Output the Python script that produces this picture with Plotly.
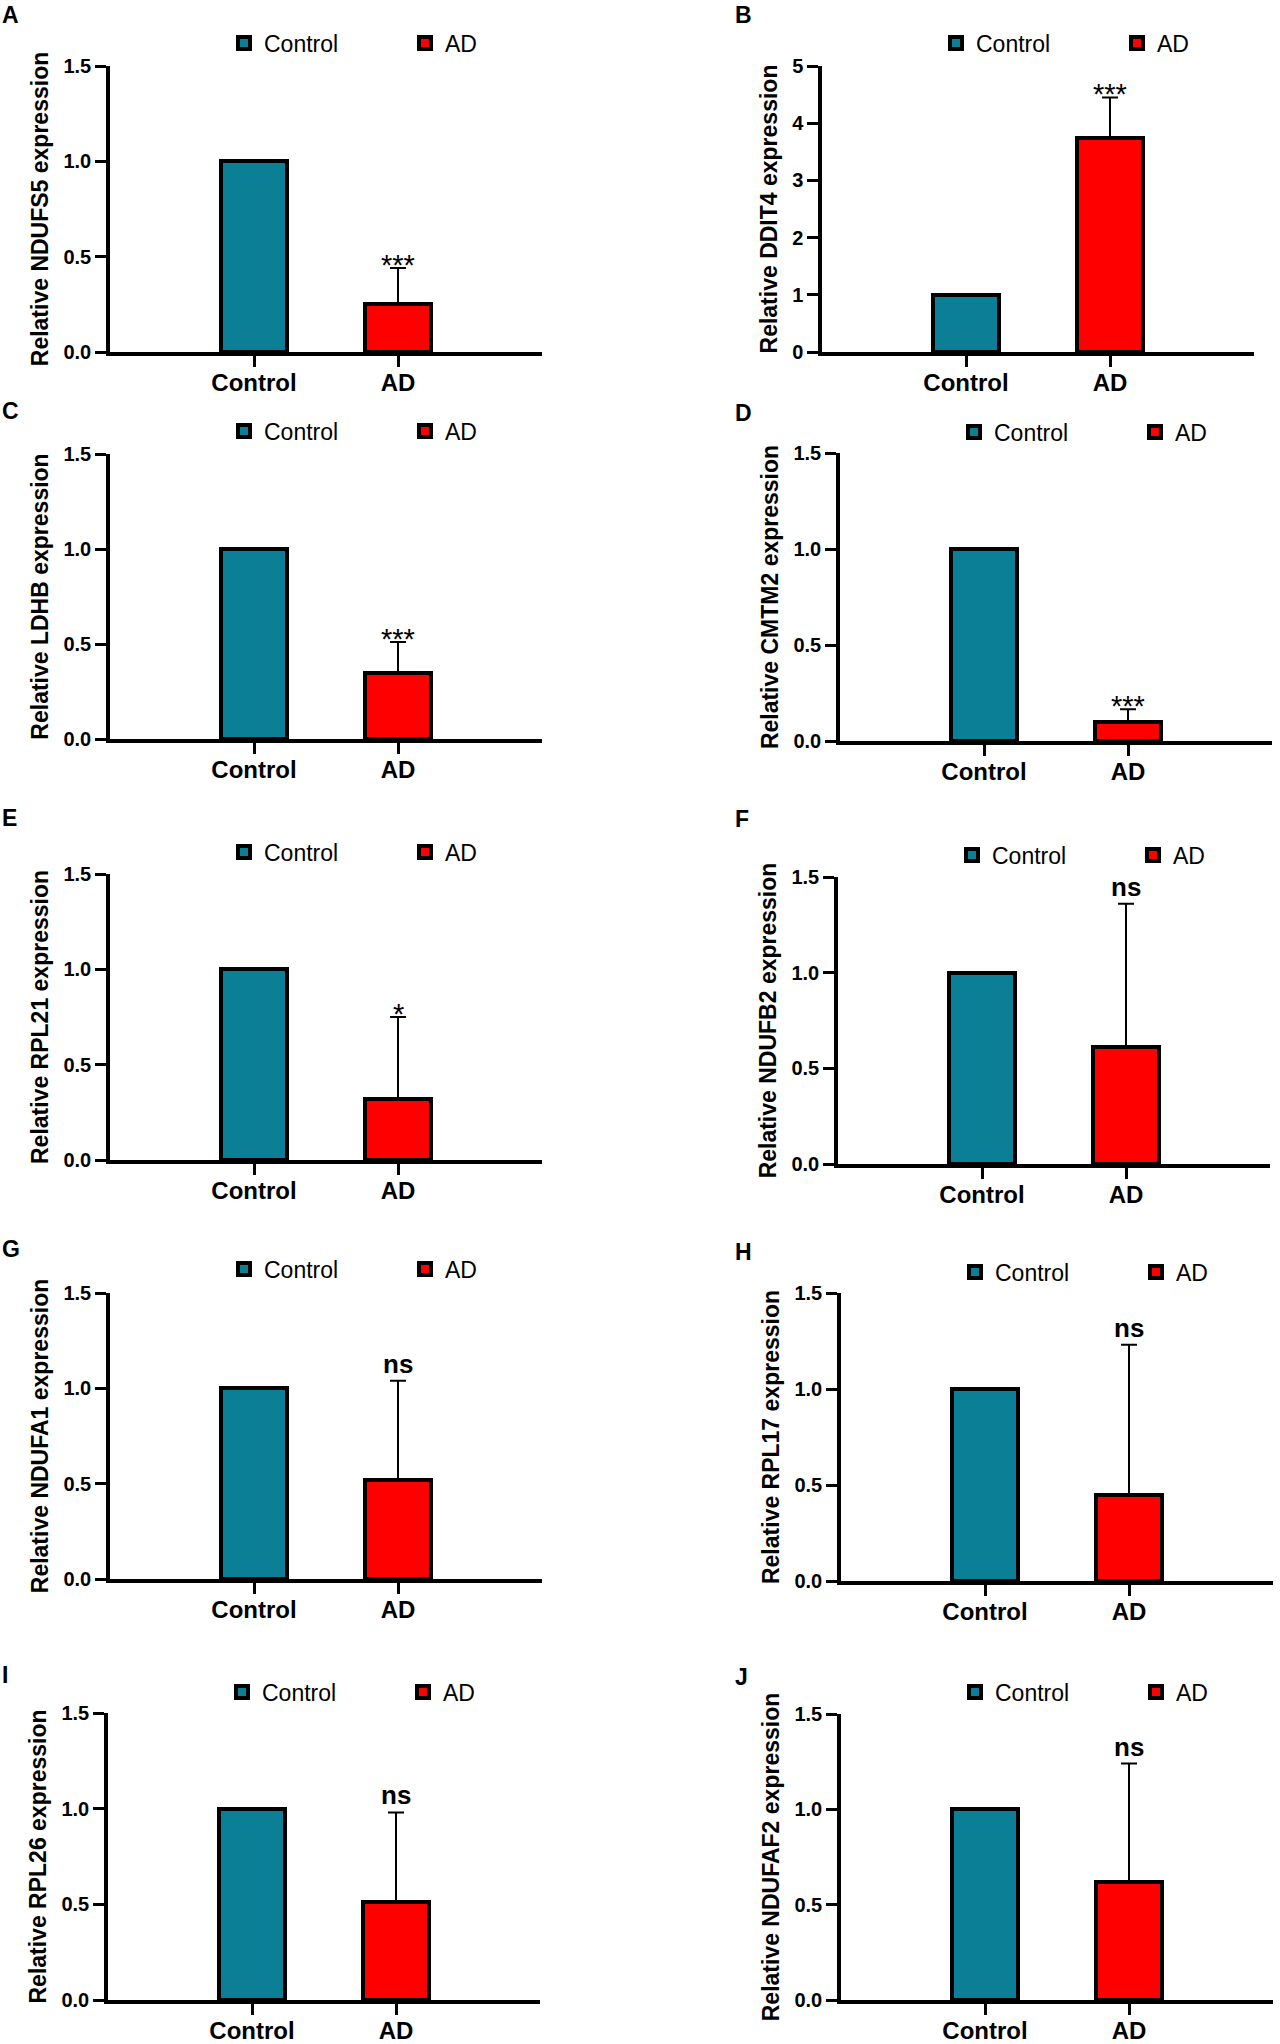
import plotly.graph_objects as go

# ---------------- data ----------------
panel_letters = ["A", "B", "C", "D", "E", "F", "G", "H", "I", "J"]
genes = ["NDUFS5", "DDIT4", "LDHB", "CMTM2", "RPL21",
         "NDUFB2", "NDUFA1", "RPL17", "RPL26", "NDUFAF2"]
categories = ["Control", "AD"]
control_values = [1.0, 1.0, 1.0, 1.0, 1.0, 1.0, 1.0, 1.0, 1.0, 1.0]
ad_values = [0.25, 3.74, 0.35, 0.10, 0.32, 0.61, 0.52, 0.45, 0.51, 0.62]
ad_error_up = [0.19, 0.71, 0.16, 0.065, 0.43, 0.75, 0.52, 0.78, 0.47, 0.62]
significance = ["***", "***", "***", "***", "*", "ns", "ns", "ns", "ns", "ns"]
y_max = [1.5, 5, 1.5, 1.5, 1.5, 1.5, 1.5, 1.5, 1.5, 1.5]
y_dtick = [0.5, 1, 0.5, 0.5, 0.5, 0.5, 0.5, 0.5, 0.5, 0.5]

# ---------------- geometry (px) ----------------
W, H = 1280, 2044
AX_W = 432
axis_x0 = [110, 822, 110, 840, 110, 838, 110, 841, 108, 841]
y_zero = [352, 352, 739, 741, 1160, 1164, 1579, 1581, 2000, 2000]
y_top = [66, 66, 454, 453, 874, 877, 1293, 1293, 1713, 1714]
legend_y = [43, 43, 431, 432, 852, 855, 1269, 1272, 1692, 1692]
label_y = [15, 15, 411, 413, 818, 819, 1249, 1252, 1675, 1677]
label_x = [0, 733, 0, 733, 0, 733, 0, 733, 0, 733]

TEAL = "#0A7F96"
RED = "#FF0000"
FONT = "Liberation Sans, Arial, sans-serif"

fig = go.Figure()
layout = {}

for i in range(10):
    n = i + 1
    sfx = "" if n == 1 else str(n)
    xa, ya = "x" + sfx, "y" + sfx
    leg = "legend" + sfx

    fig.add_trace(go.Bar(
        x=[categories[0]], y=[control_values[i]], name="Control",
        marker=dict(color=TEAL, line=dict(color="black", width=4)),
        width=0.46, xaxis=xa, yaxis=ya, legend=leg,
    ))
    fig.add_trace(go.Bar(
        x=[categories[1]], y=[ad_values[i]], name="AD",
        marker=dict(color=RED, line=dict(color="black", width=4)),
        width=0.46, xaxis=xa, yaxis=ya, legend=leg,
        error_y=dict(type="data", symmetric=False, array=[ad_error_up[i]],
                     arrayminus=[0], color="black", thickness=2, width=8),
    ))

    x0 = axis_x0[i]
    layout["xaxis" + sfx] = dict(
        domain=[x0 / W, (x0 + AX_W) / W], anchor=ya, type="category",
        range=[-1, 2], showline=True, linecolor="black", linewidth=3.5,
        ticks="outside", ticklen=11, tickwidth=3, tickcolor="black",
        ticklabelstandoff=-5,
        tickfont=dict(family=FONT, size=24, color="black", weight="bold"),
        showgrid=False, zeroline=False, fixedrange=True,
    )
    layout["yaxis" + sfx] = dict(
        domain=[1 - y_zero[i] / H, 1 - y_top[i] / H], anchor=xa,
        range=[0, y_max[i]], tick0=0, dtick=y_dtick[i],
        tickformat=".1f" if y_dtick[i] < 1 else "d",
        showline=True, linecolor="black", linewidth=3.5,
        ticks="outside", ticklen=11, tickwidth=3, tickcolor="black",
        tickfont=dict(family=FONT, size=20, color="black", weight="bold"),
        showgrid=False, zeroline=False, fixedrange=True,
        title=dict(text="Relative " + genes[i] + " expression", standoff=9,
                   font=dict(family=FONT, size=23, color="black", weight="bold")),
    )
    layout[leg] = dict(
        orientation="h", x=(x0 + 114) / W, xanchor="left",
        y=1 - legend_y[i] / H, yanchor="middle",
        font=dict(family=FONT, size=23, color="black"),
        itemwidth=30, entrywidth=136, bgcolor="rgba(0,0,0,0)",
        traceorder="normal",
    )

    sig = significance[i]
    is_ns = sig == "ns"
    fig.add_annotation(
        x=categories[1], y=ad_values[i] + ad_error_up[i], xref=xa, yref=ya,
        text=sig, showarrow=False, yanchor="bottom",
        yshift=0 if is_ns else -15,
        font=dict(family=FONT, size=26 if is_ns else 29, color="black",
                  weight="bold" if is_ns else "normal"),
    )
    fig.add_annotation(
        x=label_x[i] / W, y=1 - label_y[i] / H, xref="paper", yref="paper",
        xanchor="left", yanchor="middle", text=panel_letters[i],
        showarrow=False,
        font=dict(family=FONT, size=23, color="black", weight="bold"),
    )

fig.update_layout(
    width=W, height=H,
    margin=dict(l=0, r=0, t=0, b=0, pad=0, autoexpand=False),
    paper_bgcolor="white", plot_bgcolor="white",
    barmode="overlay", bargap=0, showlegend=True,
    **layout,
)

fig.write_html("out.html",
               post_script="document.body.style.margin='0px';",
               config={"displayModeBar": False})
